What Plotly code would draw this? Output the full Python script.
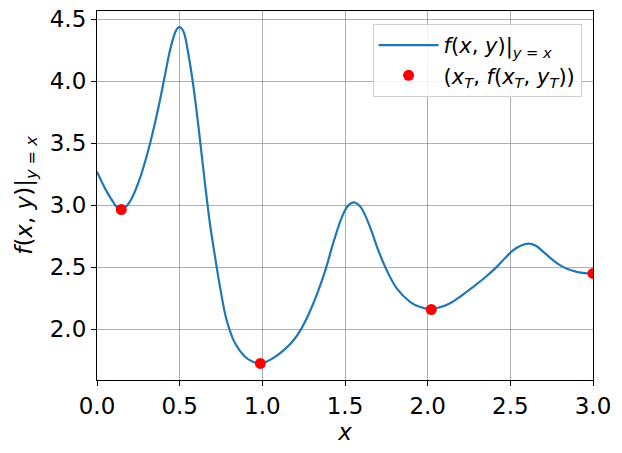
import plotly.graph_objects as go

# curve samples
x_curve = [0.0, 0.03, 0.06, 0.10, 0.12, 0.145, 0.17, 0.202, 0.252, 0.302, 0.343,
           0.383, 0.413, 0.444, 0.474, 0.487, 0.500, 0.513, 0.528, 0.554, 0.585,
           0.615, 0.645, 0.683, 0.714, 0.744, 0.784, 0.835, 0.895, 0.940, 0.986,
           1.030, 1.077, 1.130, 1.180, 1.230, 1.280, 1.330, 1.380, 1.430, 1.480,
           1.515, 1.550, 1.575, 1.601, 1.651, 1.701, 1.752, 1.813, 1.893, 1.950,
           2.014, 2.070, 2.130, 2.200, 2.276, 2.350, 2.418, 2.470, 2.518, 2.565,
           2.609, 2.655, 2.700, 2.750, 2.800, 2.850, 2.901, 2.950, 3.0]
y_curve = [3.27, 3.185, 3.107, 3.020, 2.985, 2.968, 2.982, 3.035, 3.188, 3.403, 3.619,
           3.861, 4.062, 4.264, 4.398, 4.428, 4.437, 4.425, 4.384, 4.210, 3.941,
           3.619, 3.268, 2.852, 2.583, 2.341, 2.073, 1.885, 1.777, 1.738, 1.723,
           1.740, 1.775, 1.830, 1.895, 1.990, 2.120, 2.280, 2.470, 2.700, 2.900,
           2.990, 3.022, 3.010, 2.973, 2.825, 2.637, 2.476, 2.328, 2.220, 2.180,
           2.162, 2.175, 2.205, 2.265, 2.341, 2.420, 2.502, 2.575, 2.637, 2.675,
           2.690, 2.672, 2.623, 2.565, 2.516, 2.482, 2.462, 2.452, 2.449]

# marked points
x_pts = [0.147, 0.988, 2.022, 3.0]
y_pts = [2.965, 1.723, 2.158, 2.449]

x_ticks = [0.0, 0.5, 1.0, 1.5, 2.0, 2.5, 3.0]
y_ticks = [2.0, 2.5, 3.0, 3.5, 4.0, 4.5]

FONT = "DejaVu Sans"

fig = go.Figure()
fig.add_trace(go.Scatter(
    x=x_curve, y=y_curve, mode="lines",
    line=dict(color="#1f77b4", width=2.2, shape="spline", smoothing=1.0),
    name="<i>f</i>(<i>x</i>, <i>y</i>)|<sub><i>y</i> = <i>x</i></sub>",
))
fig.add_trace(go.Scatter(
    x=x_pts, y=y_pts, mode="markers",
    marker=dict(color="#ff0000", size=11),
    name="(<i>x<sub>T</sub></i>, <i>f</i>(<i>x<sub>T</sub></i>, <i>y<sub>T</sub></i>))",
))

axis_common = dict(
    showline=True, linecolor="black", linewidth=1.2, mirror=True,
    ticks="outside", ticklen=5, tickcolor="black", tickwidth=1,
    showgrid=True, gridcolor="rgba(120,120,140,0.6)", gridwidth=1,
    zeroline=False, automargin=False, ticklabeloverflow="allow",
    tickfont=dict(family=FONT, size=23, color="black"),
)

fig.update_layout(
    width=622, height=453,
    margin=dict(l=97, r=29, t=11, b=73),
    paper_bgcolor="white", plot_bgcolor="white",
    font=dict(family=FONT, color="black"),
    xaxis=dict(range=[0, 3], tickvals=x_ticks, ticktext=[f"{v:.1f}" for v in x_ticks],
               title=dict(text="<i>x</i>", font=dict(family=FONT, size=23), standoff=4),
               **axis_common),
    yaxis=dict(range=[1.589, 4.567], tickvals=y_ticks, ticktext=[f"{v:.1f}" for v in y_ticks],
               title=dict(text="<i>f</i>(<i>x</i>, <i>y</i>)|<sub><i>y</i> = <i>x</i></sub>",
                          font=dict(family=FONT, size=23), standoff=10),
               **axis_common),
    legend=dict(
        x=0.977, y=0.965, xanchor="right", yanchor="top",
        bgcolor="rgba(255,255,255,0.85)", bordercolor="#d0d0d0", borderwidth=1,
        font=dict(family=FONT, size=21, color="black"),
        itemwidth=60, tracegroupgap=2,
    ),
    showlegend=True,
)

# remove the browser's default 8px body margin so the figure fills the window
fig.write_html("out.html",
               config={"displayModeBar": False},
               post_script="document.body.style.margin='0';document.body.style.overflow='hidden';")
